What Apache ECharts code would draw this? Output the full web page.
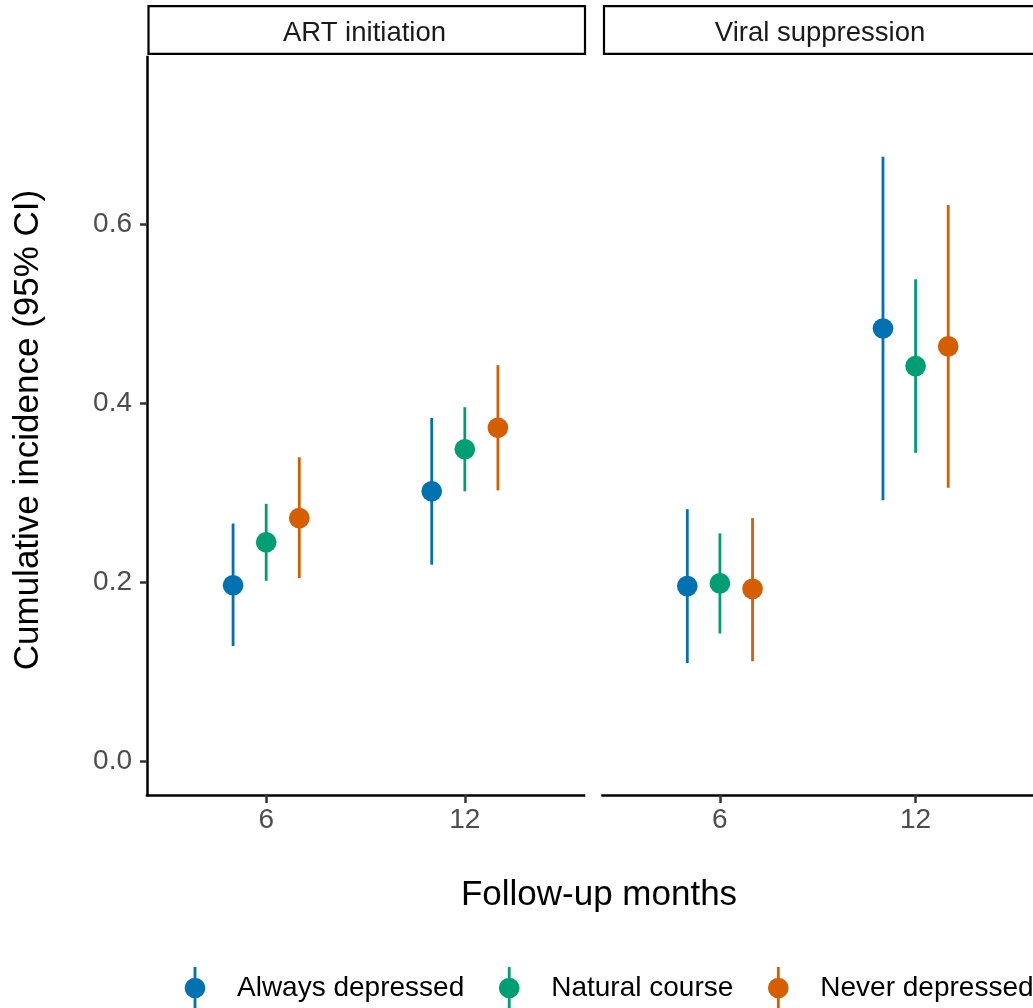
<!DOCTYPE html>
<html>
<head>
<meta charset="utf-8">
<title>Cumulative incidence by depression scenario</title>
<script src="https://cdn.jsdelivr.net/npm/echarts@6/dist/echarts.min.js"></script>
<style>
  html, body { margin: 0; padding: 0; background: #ffffff; }
  #chart { width: 1033px; height: 1008px; }
</style>
</head>
<body>
<div id="chart"></div>
<script>
// Follow-up time points (x categories) and facet panels
const months = ['6', '12'];
const panels = ['ART initiation', 'Viral suppression'];
const groups = ['Always depressed', 'Natural course', 'Never depressed'];
const groupColors = ['#0072B2', '#009E73', '#D55E00'];
const yTicks = [0, 0.2, 0.4, 0.6];

// ART initiation: one row per group, one column per follow-up month
const artEstimate = [[0.197, 0.302], [0.245, 0.349], [0.272, 0.373]];
const artLower    = [[0.129, 0.220], [0.202, 0.302], [0.205, 0.303]];
const artUpper    = [[0.266, 0.384], [0.288, 0.396], [0.340, 0.443]];

// Viral suppression
const vsEstimate = [[0.196, 0.484], [0.199, 0.442], [0.193, 0.464]];
const vsLower    = [[0.110, 0.292], [0.143, 0.345], [0.112, 0.306]];
const vsUpper    = [[0.282, 0.676], [0.255, 0.539], [0.272, 0.622]];

const panelData = [
  { estimate: artEstimate, lower: artLower, upper: artUpper },
  { estimate: vsEstimate, lower: vsLower, upper: vsUpper }
];

const FONT = '"Liberation Sans", Arial, Helvetica, sans-serif';
const dodgeWidth = 0.5;          // total dodge width per month
const yLimits = [0, 0.75];
const yExpand = (yLimits[1] - yLimits[0]) * 0.05;

const grids = [
  { left: 147, top: 57, width: 437, height: 738 },
  { left: 602.5, top: 57, width: 437, height: 738 }
];

// legend key: vertical interval line with a point through it
const keyIcon = 'path://M0,21 L74,21 Z ' +
  'M35.6,0 H38.4 V42 H35.6 Z ' +
  'M26.65,21 A10.35,10.35 0 1,1 47.35,21 A10.35,10.35 0 1,1 26.65,21 Z';

const xAxes = grids.map((g, p) => ({
  type: 'value',
  gridIndex: p,
  min: 0.4,
  max: months.length + 0.6,
  splitLine: { show: false },
  axisLine: { show: true, onZero: false, lineStyle: { color: '#000000', width: 2.5, cap: 'square' } },
  axisTick: { show: true, customValues: months.map((m, i) => i + 1), length: 8,
              lineStyle: { color: '#333333', width: 2.5 } },
  axisLabel: { show: true, customValues: months.map((m, i) => i + 1), margin: 11,
               color: '#4d4d4d', fontSize: 28, fontFamily: FONT,
               formatter: v => months[Math.round(v) - 1] }
}));

const yAxes = grids.map((g, p) => ({
  type: 'value',
  gridIndex: p,
  min: yLimits[0] - yExpand,
  max: yLimits[1] + yExpand,
  show: p === 0,
  splitLine: { show: false },
  axisLine: { show: true, onZero: false, lineStyle: { color: '#000000', width: 2.5, cap: 'square' } },
  axisTick: { show: true, customValues: yTicks, length: 7,
              lineStyle: { color: '#333333', width: 2.5 } },
  axisLabel: { show: true, customValues: yTicks, margin: 15,
               color: '#4d4d4d', fontSize: 28, fontFamily: FONT,
               formatter: v => v.toFixed(1) }
}));

const series = [];
panelData.forEach((d, p) => {
  groups.forEach((name, g) => {
    const offset = (g - (groups.length - 1) / 2) * dodgeWidth / groups.length;
    const color = groupColors[g];
    series.push({
      type: 'custom',
      name: name,
      xAxisIndex: p,
      yAxisIndex: p,
      silent: true,
      z: 2,
      itemStyle: { color: color, borderWidth: 0 },
      data: months.map((m, i) => [i + 1 + offset, d.lower[g][i], d.upper[g][i]]),
      renderItem: (params, api) => {
        const lo = api.coord([api.value(0), api.value(1)]);
        const hi = api.coord([api.value(0), api.value(2)]);
        return {
          type: 'line',
          shape: { x1: lo[0], y1: lo[1], x2: hi[0], y2: hi[1] },
          style: { stroke: color, lineWidth: 2.8 }
        };
      }
    });
    series.push({
      type: 'scatter',
      name: name,
      xAxisIndex: p,
      yAxisIndex: p,
      silent: true,
      z: 3,
      symbol: 'circle',
      symbolSize: 20.7,
      itemStyle: { color: color, opacity: 1, borderWidth: 0 },
      data: months.map((m, i) => [i + 1 + offset, d.estimate[g][i]])
    });
  });
});

// facet strips
const graphics = [];
grids.forEach((g, p) => {
  graphics.push({
    type: 'rect',
    shape: { x: g.left + 1.5, y: 6.2, width: g.width - 0.5, height: 47.6 },
    style: { fill: '#ffffff', stroke: '#000000', lineWidth: 2.2 },
    silent: true
  });
  graphics.push({
    type: 'text',
    x: g.left + g.width / 2 - 1,
    y: 33,
    style: { text: panels[p], fill: '#1a1a1a', fontSize: 27.5, fontFamily: FONT,
             align: 'center', verticalAlign: 'middle' },
    silent: true
  });
});
// axis titles
graphics.push({
  type: 'text',
  x: 28.5,
  y: 430,
  rotation: Math.PI / 2,
  style: { text: 'Cumulative incidence (95% CI)', fill: '#000000', fontSize: 35, fontFamily: FONT,
           align: 'center', verticalAlign: 'middle' },
  silent: true
});
graphics.push({
  type: 'text',
  x: 599,
  y: 895.5,
  style: { text: 'Follow-up months', fill: '#000000', fontSize: 35, fontFamily: FONT,
           align: 'center', verticalAlign: 'middle' },
  silent: true
});

const chart = echarts.init(document.getElementById('chart'), null, { renderer: 'canvas' });
chart.setOption({
  animation: false,
  backgroundColor: '#ffffff',
  textStyle: { fontFamily: FONT },
  grid: grids.map(g => Object.assign({ containLabel: false }, g)),
  xAxis: xAxes,
  yAxis: yAxes,
  legend: {
    data: groups.map((name, g) => ({ name: name, icon: keyIcon,
                                     itemStyle: { color: groupColors[g], borderWidth: 0 } })),
    left: 158,
    top: 967,
    width: 1200,
    padding: 0,
    orient: 'horizontal',
    itemWidth: 74,
    itemHeight: 42,
    itemGap: 8,
    selectedMode: false,
    itemStyle: { borderWidth: 0 },
    textStyle: { fontSize: 28, color: '#000000', fontFamily: FONT }
  },
  graphic: graphics,
  series: series
});
</script>
</body>
</html>
